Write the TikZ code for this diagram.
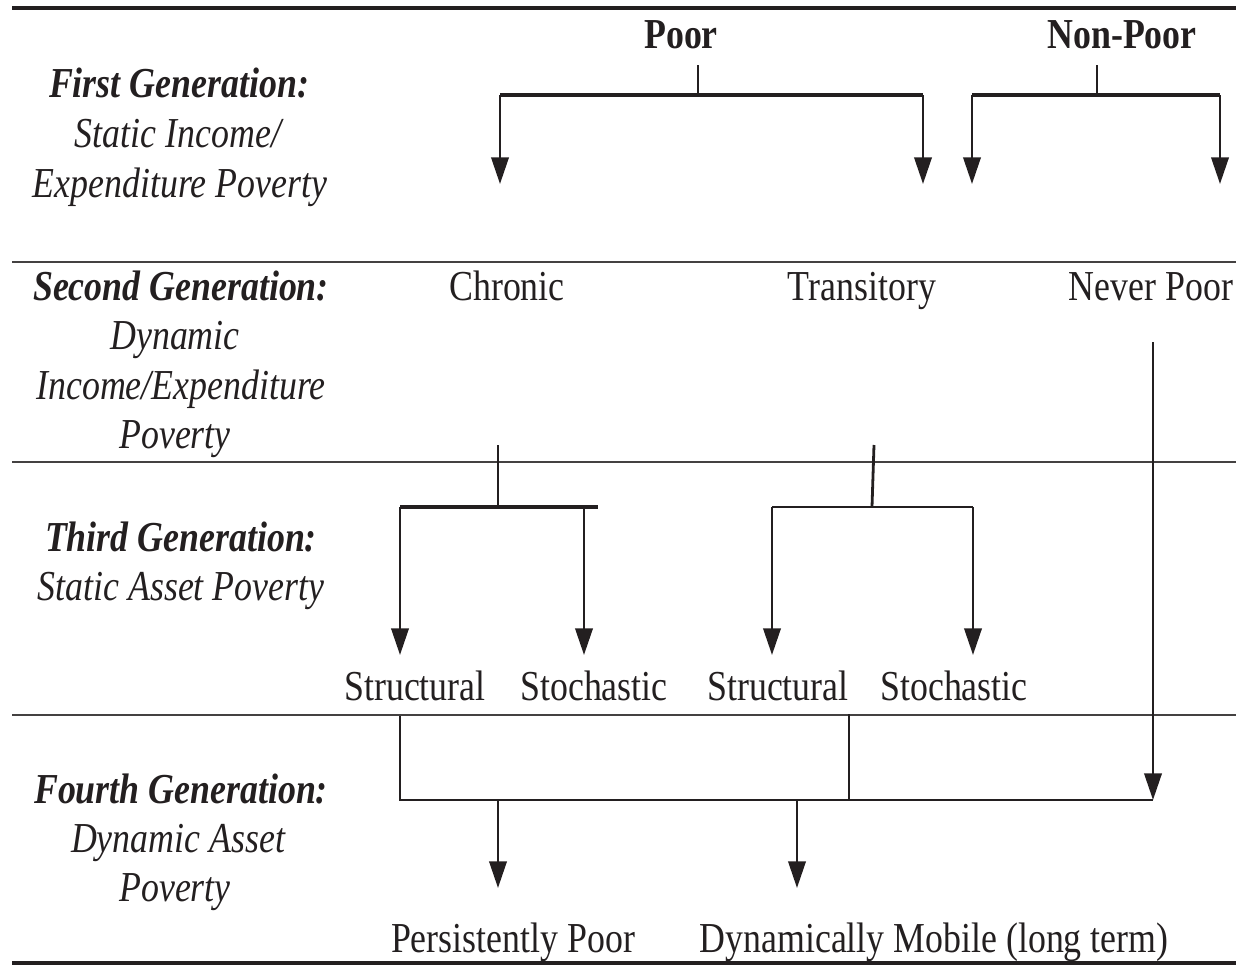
\documentclass[tikz,border=0pt]{standalone}
\usepackage{fontspec}
\setmainfont{Liberation Serif}[FakeStretch=0.84]
\usetikzlibrary{arrows.meta}
\definecolor{ink}{HTML}{231F20}
\tikzset{
  lbl/.style={anchor=base, inner sep=0pt, text=ink, font=\fontsize{32}{37}\selectfont},
  gen/.style={lbl, font=\fontsize{32}{37}\selectfont\bfseries\itshape},
  sub/.style={lbl, font=\fontsize{32}{37}\selectfont\itshape},
  head/.style={lbl, font=\fontsize{32}{37}\selectfont\bfseries},
  thickrule/.style={draw=ink, line width=3pt},
  rule/.style={draw=ink!85, line width=1.6pt},
  conn/.style={draw=ink, line width=2.1pt},
  bar/.style={draw=ink, line width=2.5pt},
  thinconn/.style={draw=ink, line width=1.6pt},
  arr/.style={conn, -{Triangle[length=20pt,width=13pt]}},
}
\begin{document}
\begin{tikzpicture}[x=0.75pt,y=-0.75pt]
\useasboundingbox (0,0) rectangle (1236,967);
% rules
\draw[thickrule] (12,8) -- (1236,8);
\draw[rule] (12,262) -- (1236,262);
\draw[rule] (12,462) -- (1236,462);
\draw[rule] (12,715) -- (1236,715);
\draw[thickrule] (12,963) -- (1236,963);
% left column
\node[gen] (g1a) at (179,97) {First Generation:};
\node[sub] (g1b) at (178,147) {Static Income/};
\node[sub] (g1c) at (180,197) {Expenditure Poverty};
\node[gen] (g2a) at (181,300) {Second Generation:};
\node[sub] (g2b) at (175,349) {Dynamic};
\node[sub] (g2c) at (181,399) {Income/Expenditure};
\node[sub] (g2d) at (175,448) {Poverty};
\node[gen] (g3a) at (181,551) {Third Generation:};
\node[sub] (g3b) at (181,600) {Static Asset Poverty};
\node[gen] (g4a) at (181,803) {Fourth Generation:};
\node[sub] (g4b) at (178,852) {Dynamic Asset};
\node[sub] (g4c) at (175,901) {Poverty};
% headers
\node[head] (poor) at (681,48) {Poor};
\node[head] (nonpoor) at (1122,48) {Non-Poor};
% second generation
\node[lbl] (chronic) at (507,300) {Chronic};
\node[lbl] (transitory) at (862,300) {Transitory};
\node[lbl] (never) at (1151,300) {Never Poor};
% third generation
\node[lbl] (st1) at (415,700) {Structural};
\node[lbl] (sc1) at (594,700) {Stochastic};
\node[lbl] (st2) at (778,700) {Structural};
\node[lbl] (sc2) at (954,700) {Stochastic};
% fourth generation
\node[lbl] (persist) at (513,952) {Persistently Poor};
\node[lbl] (mobile) at (934,952) {Dynamically Mobile (long term)};
% coordinates
\coordinate (ps) at (698,65);
\coordinate (pj) at (698,95);
\coordinate (pL) at (500,95);
\coordinate (pR) at (923,95);
\coordinate (pLe) at (500,184);
\coordinate (pRe) at (923,184);
\coordinate (ns) at (1097,65);
\coordinate (nj) at (1097,95);
\coordinate (nL) at (972,95);
\coordinate (nR) at (1220,95);
\coordinate (nLe) at (972,184);
\coordinate (nRe) at (1220,184);
\coordinate (cs) at (498,445);
\coordinate (cj) at (498,507);
\coordinate (cL) at (400,507);
\coordinate (cR) at (598,507);
\coordinate (cA) at (584,507);
\coordinate (cLe) at (400,655);
\coordinate (cAe) at (584,655);
\coordinate (ts) at (874,445);
\coordinate (tj) at (872,507);
\coordinate (tL) at (772,507);
\coordinate (tR) at (973,507);
\coordinate (tLe) at (772,655);
\coordinate (tRe) at (973,655);
\coordinate (npS) at (1153,342);
\coordinate (npE) at (1153,800);
\coordinate (bS) at (400,716);
\coordinate (bL) at (400,800);
\coordinate (mS) at (849,714);
\coordinate (mE) at (849,800);
\coordinate (ppS) at (498,800);
\coordinate (ppE) at (498,888);
\coordinate (dmS) at (797,800);
\coordinate (dmE) at (797,888);
% first generation connectors
\draw[conn] (ps) -- (pj);
\draw[bar] (pL) -- (pR);
\draw[arr] (pL) -- (pLe);
\draw[arr] (pR) -- (pRe);
\draw[conn] (ns) -- (nj);
\draw[bar] (nL) -- (nR);
\draw[arr] (nL) -- (nLe);
\draw[arr] (nR) -- (nRe);
% third generation connectors
\draw[conn] (cs) -- (cj);
\draw[bar] (cL) -- (cR);
\draw[arr] (cL) -- (cLe);
\draw[arr] (cA) -- (cAe);
\draw[conn] (ts) -- (tj);
\draw[conn] (tL) -- (tR);
\draw[arr] (tL) -- (tLe);
\draw[arr] (tR) -- (tRe);
% never poor
\draw[arr] (npS) -- (npE);
% fourth generation connectors
\draw[conn] (bS) -- (bL) -- (npE);
\draw[thinconn] (mS) -- (mE);
\draw[arr] (ppS) -- (ppE);
\draw[arr] (dmS) -- (dmE);
\end{tikzpicture}
\end{document}
